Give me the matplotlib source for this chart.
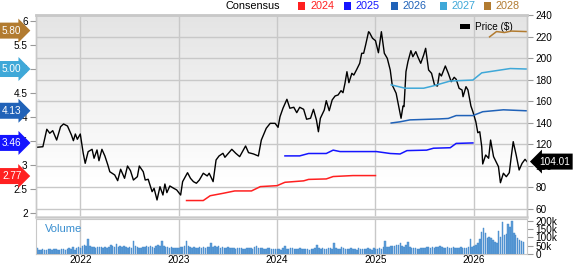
import numpy as np
import matplotlib
matplotlib.use('Agg')
import matplotlib.pyplot as plt
from matplotlib.colors import LinearSegmentedColormap
from matplotlib.patches import Rectangle, Patch
import matplotlib.transforms as mtransforms

plt.rcParams['font.family'] = ['Liberation Sans', 'DejaVu Sans']

# ---- data ----
price_t = [2021.56, 2021.62, 2021.66, 2021.69, 2021.72, 2021.76, 2021.80, 2021.83, 2021.87, 2021.91,
           2021.93, 2021.95, 2021.97, 2022.00, 2022.03, 2022.05, 2022.08, 2022.12, 2022.14, 2022.17,
           2022.19, 2022.22, 2022.25, 2022.28, 2022.30, 2022.35, 2022.38, 2022.41, 2022.45, 2022.48,
           2022.51, 2022.54, 2022.58, 2022.60, 2022.64, 2022.66, 2022.69, 2022.73, 2022.75, 2022.78,
           2022.81, 2022.84, 2022.86, 2022.88, 2022.91, 2022.95, 2022.98, 2023.02, 2023.04, 2023.09,
           2023.12, 2023.15, 2023.18, 2023.21, 2023.25, 2023.29, 2023.31, 2023.35, 2023.38, 2023.41,
           2023.45, 2023.47, 2023.51, 2023.54, 2023.58, 2023.62, 2023.68, 2023.71, 2023.76, 2023.81,
           2023.84, 2023.89, 2023.93, 2023.98, 2024.01, 2024.03, 2024.06, 2024.10, 2024.13, 2024.17,
           2024.20, 2024.23, 2024.27, 2024.30, 2024.34, 2024.37, 2024.40, 2024.42, 2024.44, 2024.48,
           2024.50, 2024.53, 2024.56, 2024.59, 2024.62, 2024.65, 2024.67, 2024.69, 2024.71, 2024.73,
           2024.76, 2024.78, 2024.81, 2024.84, 2024.86, 2024.88, 2024.90, 2024.93, 2024.94, 2024.97,
           2025.00, 2025.03, 2025.06, 2025.09, 2025.12, 2025.15, 2025.17, 2025.21, 2025.23, 2025.26,
           2025.28, 2025.29, 2025.31, 2025.33, 2025.36, 2025.38, 2025.41, 2025.43, 2025.46, 2025.49,
           2025.51, 2025.54, 2025.57, 2025.60, 2025.63, 2025.65, 2025.67, 2025.71, 2025.74, 2025.77,
           2025.80, 2025.82, 2025.85, 2025.88, 2025.89, 2025.92, 2025.94, 2025.97, 2025.99, 2026.02,
           2026.04, 2026.06, 2026.08, 2026.09, 2026.12, 2026.15, 2026.17, 2026.20, 2026.22, 2026.25,
           2026.27, 2026.30, 2026.33, 2026.36, 2026.38, 2026.40, 2026.43, 2026.46, 2026.49, 2026.52,
           2026.54]
price = [117.3, 117.8, 134.0, 130.3, 132.7, 124.0, 136.4, 138.9, 137.0, 128.7,
         123.4, 129.6, 124.7, 129.6, 111.7, 102.4, 113.2, 115.4, 107.1, 114.8,
         104.8, 115.4, 109.2, 100.9, 94.6, 91.6, 86.3, 96.9, 88.5, 99.9,
         95.6, 86.9, 90.0, 99.9, 94.6, 86.9, 87.6, 76.1, 79.2, 68.4,
         80.7, 73.0, 83.2, 75.2, 81.4, 79.2, 77.7, 73.0, 85.4, 93.7,
         88.5, 85.4, 83.9, 86.9, 93.2, 90.7, 93.2, 85.4, 105.5, 109.2,
         111.7, 108.0, 112.3, 115.4, 111.7, 108.6, 118.5, 112.3, 111.1, 109.2,
         124.0, 134.9, 139.5, 139.5, 135.8, 145.7, 153.5, 161.8, 153.5, 154.4,
         149.4, 154.4, 152.5, 143.3, 144.2, 152.5, 142.6, 131.7, 144.2, 151.9,
         160.5, 151.2, 161.2, 164.9, 165.8, 169.8, 167.9, 176.6, 187.4, 177.2,
         185.9, 184.3, 189.6, 195.2, 204.5, 204.5, 212.2, 224.5, 223.6, 218.4,
         216.2, 205.0, 224.5, 204.5, 199.8, 189.0, 175.1, 167.4, 158.1, 144.2,
         155.6, 155.0, 187.4, 196.7, 206.9, 201.3, 206.0, 201.3, 195.2, 202.9,
         209.1, 189.0, 185.9, 175.1, 174.1, 185.9, 183.4, 192.7, 185.9, 178.1,
         182.2, 180.4, 172.0, 170.4, 164.2, 173.5, 170.4, 155.6, 150.3, 141.0,
         130.8, 131.7, 117.8, 101.8, 110.1, 107.1, 124.0, 108.6, 104.8, 99.3,
         84.4, 93.2, 90.0, 93.7, 108.6, 122.5, 110.1, 96.2, 102.4, 106.1,
         104.01]

# consensus EPS estimate lines
eps24_t = [2023.08, 2023.25, 2023.32, 2023.45, 2023.57, 2023.74, 2023.83, 2024.00, 2024.08,
           2024.27, 2024.32, 2024.50, 2024.57, 2024.77, 2025.00]
eps24 = [2.26, 2.26, 2.36, 2.41, 2.46, 2.46, 2.55, 2.57, 2.64, 2.67, 2.70, 2.71, 2.76, 2.78, 2.78]
eps25_t = [2024.08, 2024.23, 2024.32, 2024.50, 2024.57, 2024.64, 2025.01, 2025.15, 2025.25,
           2025.32, 2025.52, 2025.59, 2025.76, 2025.82, 2025.99]
eps25 = [3.19, 3.19, 3.24, 3.24, 3.31, 3.28, 3.28, 3.24, 3.23, 3.30, 3.31, 3.35, 3.36, 3.45, 3.46]
eps26_t = [2025.16, 2025.25, 2025.35, 2025.65, 2025.74, 2025.82, 2025.99, 2026.09, 2026.30, 2026.53]
eps26 = [3.875, 3.90, 3.94, 3.96, 3.97, 4.03, 4.03, 4.11, 4.15, 4.13]
eps27_t = [2025.16, 2025.30, 2025.49, 2025.59, 2025.76, 2025.99, 2026.08, 2026.37, 2026.53]
eps27 = [4.67, 4.60, 4.60, 4.65, 4.75, 4.77, 4.92, 5.01, 5.00]
eps28_t = [2026.16, 2026.23, 2026.31, 2026.38, 2026.53]
eps28 = [5.67, 5.78, 5.76, 5.79, 5.78]

years = ['2024', '2025', '2026', '2027', '2028']
year_colors = ['#ff2020', '#1414ff', '#2062b8', '#3fa8d8', '#b27b30']
tag_values = [2.77, 3.46, 4.13, 5.00, 5.80]

# weekly volume (thousands), from mid 2021
vol_2021 = [36, 26, 24, 28, 27, 25, 29, 28, 26, 30, 29, 27, 26, 30, 28, 27, 32, 36, 28, 40, 26, 34, 42]
vol_2022 = [34, 46, 54, 48, 92, 50, 44, 40, 38, 42, 44, 40, 36, 42, 38, 44, 56, 46, 40, 58,
            44, 50, 42, 48, 40, 36, 44, 38, 78, 48, 44, 36, 34, 40, 42, 50, 44, 50, 40, 36,
            46, 52, 48, 80, 50, 44, 40, 36, 42, 38, 34, 36]
vol_2023 = [36, 40, 44, 46, 78, 48, 40, 38, 42, 36, 34, 40, 38, 44, 36, 42, 40, 64, 44, 50,
            40, 46, 38, 42, 36, 34, 40, 38, 36, 34, 32, 38, 36, 34, 30, 32, 36, 38, 34, 32,
            40, 46, 38, 36, 34, 32, 30, 34, 36, 32, 30, 28]
vol_2024 = [30, 28, 26, 34, 50, 32, 30, 34, 36, 32, 30, 28, 34, 30, 28, 32, 30, 26, 28, 32,
            36, 54, 34, 30, 38, 32, 28, 34, 36, 30, 64, 36, 32, 30, 40, 34, 30, 28, 32, 36,
            30, 28, 26, 34, 30, 32, 28, 30, 34, 28, 26, 36]
vol_2025 = [28, 32, 36, 30, 40, 80, 44, 42, 46, 50, 48, 54, 56, 64, 46, 44, 52, 74, 40, 36,
            34, 38, 32, 30, 36, 34, 38, 44, 40, 36, 42, 38, 44, 40, 50, 42, 38, 36, 40, 34,
            38, 42, 36, 34, 38, 40, 36, 34, 38, 44, 90, 40]
vol_2026 = [46, 52, 64, 90, 134, 154, 124, 98, 104, 94, 84, 74, 64, 138, 104, 194, 114, 118,
            178, 164, 198, 124, 114, 94, 84, 78, 70]
volume = np.array(vol_2021 + vol_2022 + vol_2023 + vol_2024 + vol_2025 + vol_2026) * 1000
vol_t = 2021.56 + np.arange(len(volume)) / 52.0

# ---- layout (pixel based, 573x264) ----
W, H = 573, 264
fig = plt.figure(figsize=(W / 100, H / 100), dpi=100)
L, R = 36, 527
ax = fig.add_axes([L / W, 1 - 217 / H, (R - L) / W, (217 - 15) / H])
axv = fig.add_axes([L / W, 1 - 254 / H, (R - L) / W, (254 - 219) / H], sharex=ax)
axe = ax.twinx()

grid_c = '#c8c8c8'
tick_c = '#999999'
fs = 7.2
xmin, xmax = 2021.55, 2026.54

# gradient background
cmap_bg = LinearSegmentedColormap.from_list('bg', ['#e4e4e4', '#ffffff'])
grad = np.clip(np.linspace(0, 1.2, 200), 0, 1).reshape(-1, 1)
ax.imshow(grad, cmap=cmap_bg, extent=[0, 1, 0, 1], transform=ax.transAxes,
          aspect='auto', zorder=0, vmin=0, vmax=1)

# price on the main axes (right side)
ax.plot(price_t, price, color='black', lw=1.0, zorder=3)
ax.set_ylim(52.6, 240)
ax.set_xlim(xmin, xmax)
ax.set_yticks(range(60, 241, 20))
ax.yaxis.tick_right()
ax.grid(True, color=grid_c, lw=1.0, zorder=1)
ax.set_xticks([2022, 2023, 2024, 2025, 2026])
ax.tick_params(axis='x', length=0, labelbottom=False)
ax.tick_params(axis='y', length=4, color=tick_c, labelsize=fs, pad=2)

# EPS on the twin (left side)
for tt, vv, c in zip([eps24_t, eps25_t, eps26_t, eps27_t, eps28_t],
                     [eps24, eps25, eps26, eps27, eps28], year_colors):
    axe.plot(tt, vv, color=c, lw=1.1, zorder=4)
axe.set_ylim(1.917, 6.125)
axe.yaxis.tick_left()
eps_ticks = [2, 2.5, 3, 3.5, 4, 4.5, 5, 5.5, 6]
axe.set_yticks(eps_ticks)
axe.set_yticklabels(['2', '2.5', '3', '3.5', '4', '4.5', '5', '5.5', '6'])
axe.tick_params(axis='y', length=4, color=tick_c, labelsize=fs, pad=2)
axe.set_xlim(xmin, xmax)

for a in (ax, axe):
    for s in a.spines.values():
        s.set_color(grid_c)
        s.set_linewidth(1.0)
ax.spines['top'].set_linewidth(2.0)
ax.spines['bottom'].set_color('#dddddd')
ax.spines['bottom'].set_linewidth(2.0)

# EPS tags on the left
trans_e = mtransforms.blended_transform_factory(fig.transFigure, axe.transData)
for v, c in zip(tag_values, year_colors):
    axe.text(2.0 / W, v, f'{v:.2f}', transform=trans_e, ha='left', va='center',
             color='white', fontsize=fs, zorder=10, clip_on=False,
             bbox=dict(boxstyle='rarrow,pad=0.3', fc=c, ec='none'))

# last price tag on the right
trans_p = mtransforms.blended_transform_factory(ax.transAxes, ax.transData)
ax.text(1.024, price[-1], f'{price[-1]:.2f}', transform=trans_p, ha='left', va='center',
        color='white', fontsize=fs, zorder=10, clip_on=False,
        bbox=dict(boxstyle='larrow,pad=0.3', fc='black', ec='none'))

# price legend
leg = ax.legend(handles=[Patch(fc='black', ec='none', label='Price ($)')], loc='upper right',
                bbox_to_anchor=(0.985, 1.0), frameon=False, fontsize=fs, handlelength=1.0,
                handleheight=0.5, handletextpad=0.5, borderaxespad=0.3)

# volume
axv.bar(vol_t, volume, width=1 / 52 * 0.8, color='#5f9fd8', edgecolor='#3d82c8', lw=0.3, zorder=2)
axv.set_ylim(0, 210000)
axv.set_xlim(xmin, xmax)
axv.set_yticks([0, 50000, 100000, 150000, 200000])
axv.set_yticklabels(['0', '50k', '100k', '150k', '200k'])
axv.yaxis.tick_right()
axv.tick_params(axis='y', length=4, color=tick_c, labelsize=fs, pad=2)
axv.set_xticks([2022, 2023, 2024, 2025, 2026])
axv.set_xticklabels(['2022', '2023', '2024', '2025', '2026'])
axv.tick_params(axis='x', length=0, labelsize=fs, pad=1)
axv.grid(True, axis='x', color=grid_c, lw=1.0, zorder=1)
for s in axv.spines.values():
    s.set_color(grid_c)
axv.text(0.018, 0.72, 'Volume', transform=axv.transAxes, color='#3a8fd0', fontsize=8,
         ha='left', va='center')

# header legend
hy = 1 - 6 / H
fig.text(225 / W, hy, 'Consensus', color='black', fontsize=7.8, ha='left', va='center')
head_x = [298, 344, 391, 440, 484]
for x0, yr, c in zip(head_x, years, year_colors):
    fig.patches.append(Rectangle((x0 / W, hy - 4 / H), 7 / W, 8 / H, transform=fig.transFigure,
                                 fc=c, ec='none', figure=fig))
    fig.text((x0 + 12) / W, hy, yr, color=c, fontsize=7.8, ha='left', va='center')

fig.savefig('out.png', dpi=100)
